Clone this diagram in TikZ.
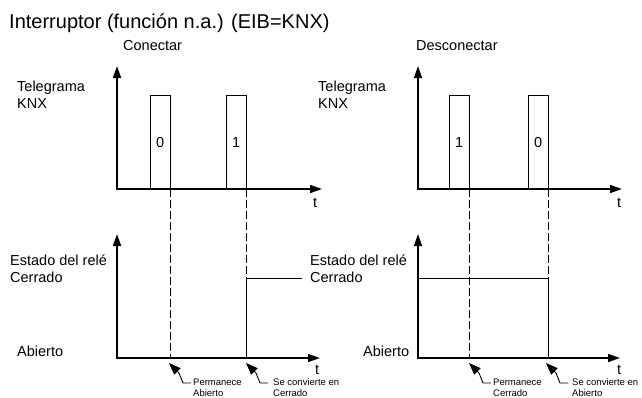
\documentclass[tikz,border=0pt]{standalone}
\usepackage{fontspec}
\setmainfont{Liberation Sans}
\usetikzlibrary{positioning, arrows.meta}

\begin{document}
\begin{tikzpicture}[x=1pt, y=-1pt,
	lbl/.style={inner sep=0pt, anchor=base west, align=left, font=\fontsize{14.5}{16.5}\selectfont},
	note/.style={inner sep=0pt, anchor=base west, align=left, font=\fontsize{9.5}{11}\selectfont},
	axis/.style={line width=1.6pt, {Triangle[length=12pt,width=8pt]}-{Triangle[length=12pt,width=8pt]}},
	pulse/.style={draw, line width=0.8pt, minimum width=19.5pt, minimum height=93pt, anchor=south west, inner sep=0pt, font=\fontsize{14.5}{16}\selectfont},
	guide/.style={line width=0.8pt, dash pattern=on 8pt off 3pt},
	level/.style={line width=0.9pt},
	pointer/.style={line width=0.9pt, -{Triangle[length=12pt,width=9pt]}}]
	\useasboundingbox (0,0) rectangle (642,397);
	\node[lbl, font=\fontsize{20}{22}\selectfont] (title) at (9,28) {Interruptor (función n.a.) (EIB=KNX)};
	\node[lbl] (on) at (123,50) {Conectar};
	\node[lbl] (off) at (416,50) {Desconectar};
	\node[lbl] (tg1) at (17,108) {Telegrama\\KNX};
	\node[lbl] (tg2) at (318,108) {Telegrama\\KNX};
	\node[lbl] (st1) at (10,282) {Estado del relé\\Cerrado};
	\node[lbl] (st2) at (310,282) {Estado del relé\\Cerrado};
	\node[lbl] (ab1) at (17,356) {Abierto};
	\node[lbl] (ab2) at (363,356) {Abierto};
	\coordinate (t1o) at (117,189);
	\coordinate (t1y) at (117,66);
	\coordinate (t1x) at (322,189);
	\coordinate (a1o) at (117,358);
	\coordinate (a1y) at (117,234);
	\coordinate (a1x) at (320,358);
	\coordinate (t2o) at (418,189);
	\coordinate (t2y) at (418,66);
	\coordinate (t2x) at (622,189);
	\coordinate (a2o) at (418,358);
	\coordinate (a2y) at (418,234);
	\coordinate (a2x) at (620,358);
	\node[lbl] (tt1) at (313,207) {t};
	\node[lbl] (tt2) at (617,207) {t};
	\node[lbl] (ta1) at (315,374) {t};
	\node[lbl] (ta2) at (617,374) {t};
	\node[pulse] (p0) at (150,189) {0};
	\node[pulse] (p1) at (226,189) {1};
	\node[pulse] (q1) at (449,189) {1};
	\node[pulse] (q0) at (528,189) {0};
	\draw[axis] (t1y) -- (t1o) -- (t1x);
	\draw[axis] (a1y) -- (a1o) -- (a1x);
	\draw[axis] (t2y) -- (t2o) -- (t2x);
	\draw[axis] (a2y) -- (a2o) -- (a2x);
	\draw[guide] (p0.south east) -- (p0.south east |- a1o);
	\draw[guide] (p1.south east) -- (p1.south east |- a1o);
	\draw[guide] (q1.south east) -- (q1.south east |- a2o);
	\draw[guide] (q0.south east) -- (q0.south east |- a2o);
	\coordinate (s1) at (302,278);
	\coordinate (s2) at (418,278);
	\draw[level] (p1.south east |- a1o) |- (s1);
	\draw[level] (s2) -| (q0.south east |- a2o);
	\node[note] (n1) at (193,396) {Permanece\\Abierto};
	\node[note] (n2) at (273,396) {Se convierte en\\Cerrado};
	\node[note] (n3) at (493,396) {Permanece\\Cerrado};
	\node[note] (n4) at (572,396) {Se convierte en\\Abierto};
	\draw[pointer] ([xshift=-2pt, yshift=13pt]n1.base west) -- ++(-8,0) -- ++(-4,-10) -- ++(-10,-10);
	\draw[pointer] ([xshift=-5pt, yshift=13pt]n2.base west) -- ++(-8,0) -- ++(-4,-10) -- ++(-10,-10);
	\draw[pointer] ([xshift=-2pt, yshift=13pt]n3.base west) -- ++(-8,0) -- ++(-4,-10) -- ++(-10,-10);
	\draw[pointer] ([xshift=-4pt, yshift=13pt]n4.base west) -- ++(-8,0) -- ++(-4,-10) -- ++(-10,-10);
\end{tikzpicture}
\end{document}
